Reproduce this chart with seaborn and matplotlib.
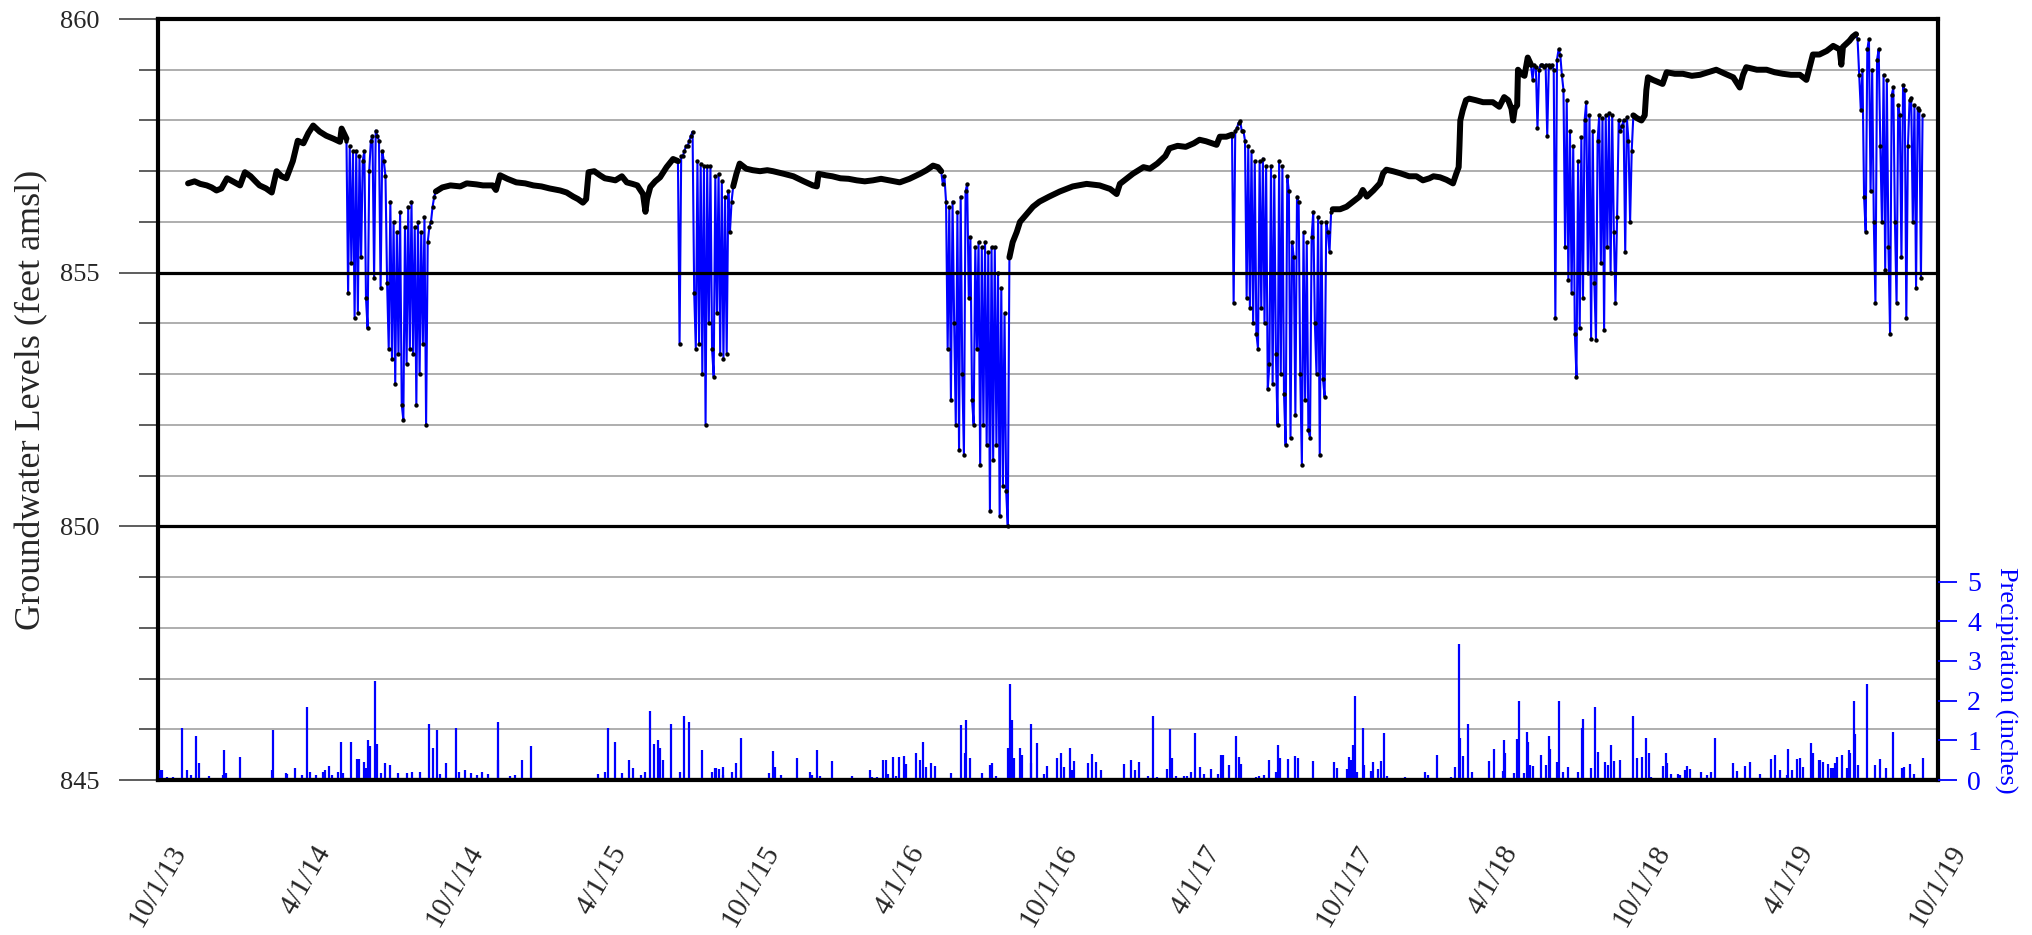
import matplotlib
import matplotlib.pyplot as plt
import matplotlib.dates as mdates
from matplotlib.ticker import FuncFormatter
import numpy as np
import pandas as pd
import seaborn as sns

matplotlib.use("Agg")

START = pd.Timestamp("2013-10-01")
BLUE = "#0000ff"

# groundwater level outside the pumping seasons (days since 10/1/13, feet amsl)
base_day = [
    37, 45, 52, 60, 66, 72, 78, 85, 92, 101, 107, 114, 120, 125, 133, 140, 146, 152, 158,
    166, 172, 179, 185, 191, 199, 207, 216, 224, 226, 232,
    342, 350, 360, 372, 380, 392, 400, 412, 416, 421, 430, 441, 452, 462, 472, 482, 495,
    503, 511, 517, 523, 527, 530, 537, 544, 550, 557, 563, 571, 577, 584, 590, 597, 600,
    602, 606, 612, 618, 626, 634, 640,
    708, 712, 716, 724, 732, 741, 750, 757, 770, 782, 795, 806, 811, 813, 822, 830, 840,
    850, 860, 870, 880, 890, 900, 913, 925, 938, 946, 954, 960, 964,
    1048, 1052, 1057, 1061, 1069, 1077, 1085, 1097, 1110, 1126, 1143, 1159, 1172, 1180,
    1184, 1192, 1200, 1213, 1221, 1230, 1240, 1245, 1255, 1265, 1275, 1282, 1290, 1303,
    1307, 1315, 1322,
    1446, 1455, 1463, 1471, 1479, 1483, 1488, 1496, 1504, 1508, 1512, 1520, 1529, 1540,
    1549, 1557, 1565, 1570, 1578, 1586, 1594, 1598, 1601, 1602, 1603, 1606, 1610, 1614,
    1622, 1631, 1643, 1651, 1657, 1662, 1666, 1668, 1670, 1673, 1674, 1678, 1682, 1686, 1690,
    1816, 1820, 1826, 1830, 1832, 1834, 1840, 1852, 1857, 1867, 1877, 1888, 1898, 1908,
    1918, 1929, 1939, 1947, 1951, 1955, 1968, 1980, 1990, 2000, 2010, 2021, 2029, 2033,
    2037, 2045, 2054, 2062, 2070, 2072, 2074, 2082, 2086, 2090,
]
base_ft = [
    856.76, 856.80, 856.75, 856.72, 856.68, 856.62, 856.66, 856.86, 856.80, 856.72, 856.98,
    856.90, 856.80, 856.72, 856.66, 856.58, 857.00, 856.90, 856.86, 857.20, 857.60, 857.55,
    857.75, 857.90, 857.78, 857.70, 857.64, 857.58, 857.84, 857.64,
    856.60, 856.68, 856.72, 856.70, 856.76, 856.74, 856.72, 856.72, 856.63, 856.92, 856.85,
    856.78, 856.76, 856.72, 856.70, 856.66, 856.62, 856.58, 856.50, 856.45, 856.38, 856.45,
    856.98, 857.00, 856.92, 856.86, 856.84, 856.82, 856.90, 856.78, 856.75, 856.72, 856.55,
    856.20, 856.45, 856.69, 856.80, 856.88, 857.08, 857.24, 857.20,
    856.70, 856.95, 857.15, 857.05, 857.02, 857.00, 857.02, 857.00, 856.95, 856.90, 856.80,
    856.72, 856.70, 856.95, 856.92, 856.90, 856.86, 856.85, 856.82, 856.80, 856.82, 856.85,
    856.82, 856.78, 856.85, 856.95, 857.02, 857.11, 857.08, 857.00,
    855.30, 855.60, 855.80, 856.00, 856.15, 856.30, 856.40, 856.50, 856.60, 856.70, 856.75,
    856.72, 856.65, 856.55, 856.75, 856.85, 856.95, 857.08, 857.05, 857.15, 857.30, 857.45,
    857.50, 857.48, 857.55, 857.62, 857.59, 857.52, 857.68, 857.68, 857.72,
    856.25, 856.25, 856.30, 856.40, 856.50, 856.63, 856.50, 856.62, 856.76, 856.96, 857.03,
    857.00, 856.96, 856.90, 856.90, 856.82, 856.86, 856.90, 856.88, 856.83, 856.76, 856.95,
    857.08, 857.50, 858.00, 858.20, 858.40, 858.43, 858.40, 858.36, 858.36, 858.27, 858.46,
    858.40, 858.23, 858.00, 858.23, 858.30, 859.00, 858.92, 858.88, 859.24, 859.10,
    858.10, 858.05, 858.00, 858.10, 858.60, 858.85, 858.80, 858.72, 858.95, 858.92, 858.92,
    858.88, 858.90, 858.95, 859.00, 858.92, 858.85, 858.65, 858.90, 859.05, 859.00, 859.00,
    858.95, 858.92, 858.90, 858.90, 858.80, 859.05, 859.30, 859.30, 859.37, 859.47, 859.40,
    859.10, 859.45, 859.57, 859.65, 859.70,
]

# pumping seasons, readings every 2 days from the first day below
season_start = [232, 640, 964, 1322, 1690, 2090]
pump_2014 = [
    857.6, 854.6, 857.5, 855.2, 857.4, 854.1, 857.4, 854.2, 857.3, 855.3,
    857.2, 857.4, 854.5, 853.9, 857.0, 857.6, 857.7, 854.9, 857.8, 857.7,
    857.6, 854.7, 857.4, 857.2, 856.9, 854.8, 853.5, 856.4, 853.3, 856.0,
    852.8, 855.8, 853.4, 856.2, 852.4, 852.1, 855.9, 853.2, 856.3, 853.5,
    856.4, 853.4, 855.9, 852.4, 856.0, 853.0, 855.8, 853.6, 856.1, 852.0,
    855.6, 855.9, 856.0, 856.3, 856.5, 856.6,
]
pump_2015 = [
    857.2, 853.6, 857.3, 857.3, 857.4, 857.5, 857.5, 857.6, 857.7, 857.78,
    854.6, 853.5, 857.2, 853.6, 857.15, 853.0, 857.1, 852.0, 857.1, 854.0,
    857.1, 853.5, 852.95, 856.9, 854.2, 856.95, 853.4, 856.8, 853.3, 856.5,
    853.4, 856.6, 855.8, 856.4, 856.7,
]
pump_2016 = [
    857.0, 856.75, 856.9, 856.4, 853.5, 856.3, 852.5, 856.4, 854.0, 852.0,
    856.2, 851.5, 856.5, 853.0, 851.4, 856.6, 856.75, 854.5, 855.7, 852.5,
    852.0, 855.5, 853.5, 855.6, 851.2, 855.5, 852.0, 855.6, 851.6, 855.4,
    850.3, 855.5, 851.3, 855.5, 851.6, 855.0, 850.2, 854.7, 850.8, 854.2,
    850.7, 850.0, 855.3,
]
pump_2017 = [
    857.7, 854.4, 857.8, 857.85, 857.95, 857.98, 857.8,
    857.8, 857.6, 854.5, 857.5, 854.3, 857.4, 854.0, 857.2, 853.8, 853.5,
    857.2, 854.3, 857.25, 854.0, 857.1, 852.7, 853.2, 857.1, 852.8, 856.9,
    853.4, 852.0, 857.2, 853.0, 857.1, 852.6, 851.6, 856.9, 856.6, 851.75,
    855.6, 855.3, 852.2, 856.5, 856.4, 853.0, 851.2, 855.8, 852.5, 855.6,
    851.9, 851.75, 855.7, 856.2, 854.0, 853.0, 856.1, 851.4, 856.0, 852.9,
    852.55, 856.0, 855.8, 855.4, 856.2, 856.25,
]
pump_2018 = [
    859.1, 858.8, 859.1, 859.05, 857.85, 859.0, 859.1, 859.1, 859.05, 859.1,
    857.7, 859.1, 859.05, 859.1, 859.0, 854.1, 859.2, 859.4, 859.3, 858.9,
    858.6, 855.5, 858.4, 854.85, 857.8, 854.6, 857.5, 853.8, 852.95, 857.2,
    853.9, 857.67, 854.5, 858.0, 858.36, 855.0, 858.1, 853.7, 857.8, 854.8,
    853.67, 857.6, 858.1, 855.2, 858.05, 853.87, 858.1, 855.5, 858.15, 855.0,
    858.1, 855.8, 854.4, 856.1, 858.0, 857.8, 857.9, 858.0, 855.4, 858.06,
    857.6, 856.0, 857.4, 858.1,
]
pump_2019 = [
    859.7, 859.6, 858.9, 858.2, 859.0, 856.5, 855.8, 859.4, 859.6, 856.6,
    859.0, 856.0, 854.4, 859.2, 859.4, 857.5, 856.0, 858.9, 855.05, 858.8,
    855.5, 853.8, 858.5, 858.65, 856.0, 854.4, 858.3, 858.1, 855.3, 858.7,
    858.6, 854.1, 857.5, 858.4, 858.45, 856.0, 858.3, 854.7, 858.25, 858.2,
    854.9, 858.1,
]

# daily precipitation (days since 10/1/13, inches)
rain_day = [
    3, 5, 11, 18, 22, 29, 36, 41, 47, 51, 63, 71, 80, 81, 84, 101, 104, 121, 140, 142,
    157, 159, 169, 177, 183, 187, 195, 203, 206, 210, 214, 221, 225, 228, 237, 245, 247,
    253, 256, 258, 261, 267, 270, 274, 279, 286, 296, 307, 313, 323, 333, 338, 344, 347,
    355, 367, 371, 378, 385, 393, 399, 406, 418, 419, 433, 440, 448, 459, 495, 517, 541,
    550, 554, 563, 571, 580, 585, 594, 599, 606, 610, 616, 618, 622, 632, 643, 648, 654,
    670, 682, 685, 687, 691, 695, 696,
    707, 711, 717, 718, 752, 757, 760, 767, 772, 787, 792, 802, 805, 811, 815, 830, 836,
    854, 876, 879, 885, 893, 896, 898, 905, 909, 912, 918, 921, 933, 938, 942, 945, 952,
    956, 976, 988, 993, 995, 1000, 1014, 1024, 1027, 1031, 1046, 1048, 1049, 1051, 1054,
    1061, 1064, 1074, 1075, 1082, 1091, 1094, 1107, 1111, 1115, 1122, 1125, 1128, 1145,
    1150, 1155, 1161, 1180, 1189, 1198, 1203, 1207, 1219, 1225, 1230, 1242, 1246, 1248,
    1253, 1263, 1267, 1272, 1276, 1282, 1287, 1296, 1305, 1308, 1311, 1318, 1327, 1331,
    1333, 1351, 1355, 1361, 1368, 1376, 1379, 1381, 1391, 1400, 1403, 1422, 1438, 1448,
    1451, 1464, 1466,
    1468, 1471, 1474, 1476, 1483, 1485, 1493, 1495, 1502, 1506, 1509, 1513, 1535, 1560,
    1563, 1574, 1591, 1597, 1602, 1603, 1606, 1612, 1617, 1638, 1645, 1655, 1657, 1658,
    1669, 1673, 1675, 1681, 1685, 1686, 1689, 1692, 1702, 1708, 1712, 1713, 1722, 1725,
    1730, 1735, 1748, 1753, 1754, 1764, 1769, 1773, 1781, 1785, 1789, 1792, 1800, 1815,
    1820, 1827, 1831, 1835, 1838, 1853, 1856, 1857, 1862, 1871, 1873, 1880, 1882, 1886,
    1899, 1907, 1912, 1917, 1923, 1939, 1944, 1954, 1959, 1972, 1985, 1990, 1996, 2005,
    2006, 2011, 2018, 2021, 2025, 2035, 2037, 2045, 2046, 2049, 2055, 2059, 2062, 2064,
    2067, 2073, 2079, 2082, 2083, 2087, 2089, 2093, 2103, 2114, 2119, 2127, 2135, 2147,
    2149, 2156, 2161, 2172,
]
rain_in = [
    0.24, 0.24, 0.08, 0.08, 0.04, 1.30, 0.25, 0.13, 1.10, 0.42, 0.10, 0.04, 0.13, 0.75,
    0.17, 0.57, 0.04, 0.04, 0.25, 1.25, 0.17, 0.15, 0.29, 0.13, 1.85, 0.21, 0.13, 0.21,
    0.24, 0.35, 0.13, 0.21, 0.95, 0.17, 0.95, 0.52, 0.52, 0.46, 0.29, 1.00, 0.85, 2.50,
    0.90, 0.17, 0.42, 0.38, 0.17, 0.17, 0.21, 0.21, 1.40, 0.80, 1.25, 0.15, 0.42, 1.30,
    0.21, 0.25, 0.17, 0.13, 0.21, 0.15, 1.45, 0.50, 0.10, 0.13, 0.50, 0.85, 0.04, 0.02,
    0.15, 0.21, 1.30, 0.95, 0.17, 0.50, 0.29, 0.13, 0.21, 1.75, 0.90, 1.00, 0.80, 0.50,
    1.40, 0.21, 1.60, 1.45, 0.75, 0.21, 0.29, 0.29, 0.27, 0.34, 0.13,
    0.21, 0.42, 1.07, 0.25, 0.17, 0.73, 0.34, 0.13, 0.04, 0.55, 0.04, 0.19, 0.13, 0.76,
    0.10, 0.48, 0.04, 0.10, 0.25, 0.08, 0.08, 0.50, 0.50, 0.15, 0.57, 0.10, 0.57, 0.60,
    0.40, 0.69, 0.50, 0.95, 0.34, 0.44, 0.36, 0.18, 1.39, 0.67, 1.50, 0.56, 0.18, 0.39,
    0.42, 0.10, 0.81, 0.67, 2.42, 1.50, 0.56, 0.80, 0.62, 1.42, 0.42, 0.94, 0.15, 0.35,
    0.56, 0.67, 0.34, 0.80, 0.24, 0.48, 0.42, 0.66, 0.46, 0.25, 0.06, 0.40, 0.50, 0.25,
    0.45, 0.10, 1.60, 0.08, 0.28, 1.29, 0.55, 0.10, 0.10, 0.10, 0.20, 1.18, 0.33, 0.15,
    0.27, 0.14, 0.62, 0.63, 0.39, 1.12, 0.59, 0.40, 0.08, 0.10, 0.13, 0.50, 0.21, 0.87,
    0.55, 0.52, 0.61, 0.56, 0.47, 0.04, 0.45, 0.29, 0.27, 0.59,
    0.50, 0.88, 2.12, 0.19, 1.30, 0.39, 0.23, 0.46, 0.28, 0.48, 1.18, 0.11, 0.08, 0.21,
    0.13, 0.63, 0.08, 0.33, 3.43, 1.05, 0.60, 1.42, 0.19, 0.48, 0.77, 0.23, 1.01, 0.67,
    0.18, 1.03, 1.98, 0.18, 1.21, 0.95, 0.38, 0.36, 0.64, 0.38, 1.10, 0.78, 0.46, 1.98,
    0.19, 0.34, 0.21, 1.30, 1.53, 0.29, 1.84, 0.71, 0.46, 0.38, 0.88, 0.48, 0.51, 1.62,
    0.56, 0.58, 1.05, 0.69, 0.08, 0.36, 0.69, 0.42, 0.14, 0.14, 0.13, 0.25, 0.35, 0.27,
    0.21, 0.13, 0.21, 1.05, 0.06, 0.44, 0.23, 0.36, 0.46, 0.14, 0.53, 0.63, 0.25, 0.13,
    0.79, 0.25, 0.54, 0.56, 0.33, 0.94, 0.67, 0.51, 0.50, 0.46, 0.41, 0.31, 0.31, 0.42,
    0.59, 0.63, 0.29, 0.75, 0.67, 1.98, 1.15, 0.39, 2.43, 0.37, 0.52, 0.31, 1.20, 0.29,
    0.33, 0.41, 0.16, 0.56,
]


def to_frame(days, values, gap):
    df = pd.DataFrame({"day": days, "value": values})
    df["date"] = START + pd.to_timedelta(df["day"], unit="D")
    df["seg"] = (df["day"].diff() > gap).cumsum()
    return df


base_df = to_frame(base_day, base_ft, 40)

seasons = [pump_2014, pump_2015, pump_2016, pump_2017, pump_2018, pump_2019]
pump_frames = []
for i, (first, vals) in enumerate(zip(season_start, seasons)):
    frame = to_frame(first + 2 * np.arange(len(vals)), vals, 1000)
    frame["seg"] = i
    pump_frames.append(frame)
pump_df = pd.concat(pump_frames, ignore_index=True)

rain_df = pd.DataFrame({"day": rain_day, "inches": rain_in})
rain_df["date"] = START + pd.to_timedelta(rain_df["day"], unit="D")

sns.set_theme(style="white")
plt.rcParams["font.family"] = ["Liberation Serif", "DejaVu Serif"]

fig = plt.figure(figsize=(20.32, 9.35), dpi=100)
ax = fig.add_axes([158 / 2032, 155 / 935, 1780 / 2032, 761 / 935])

# grid: thin gray every foot, heavy black every 5 feet
ax.set_ylim(845, 860)
ax.set_yticks([845, 850, 855, 860])
ax.set_yticks(range(845, 861), minor=True)
ax.grid(which="minor", axis="y", color="#a8a8a8", lw=1.3)
ax.grid(which="major", axis="y", visible=False)
ax.set_axisbelow(True)
for lvl in [850, 855]:
    ax.axhline(lvl, color="black", lw=2.3, zorder=2.5)

sns.lineplot(data=pump_df, x="date", y="value", units="seg", estimator=None,
             color=BLUE, lw=1.5, ax=ax, zorder=2)
sns.lineplot(data=base_df, x="date", y="value", units="seg", estimator=None,
             color="black", lw=4.3, ax=ax, zorder=3)
sns.scatterplot(data=pump_df, x="date", y="value", color="black", s=10,
                linewidth=0, ax=ax, zorder=4)

ax.set_xlim(pd.Timestamp("2013-10-01"), pd.Timestamp("2019-10-01"))
ax.xaxis.set_major_locator(mdates.MonthLocator(bymonth=[4, 10]))
ax.xaxis.set_minor_locator(mdates.MonthLocator(bymonth=[1, 7]))


def date_label(x, pos):
    d = mdates.num2date(x)
    return f"{d.month}/{d.day}/{d.year % 100:02d}"


ax.xaxis.set_major_formatter(FuncFormatter(date_label))
ax.tick_params(axis="x", which="major", length=27, width=1.3, color="#505050",
               labelsize=21, pad=17, labelrotation=60)
ax.tick_params(axis="x", which="minor", length=13, width=1.3, color="#808080")
ax.tick_params(axis="y", which="major", length=28, width=1.3, color="#505050",
               labelsize=19, pad=14, left=True)
ax.tick_params(axis="y", which="minor", length=14, width=1.3, color="#505050", left=True)
for lab in ax.get_xticklabels():
    lab.set_ha("center")

ax.set_xlabel("")
ax.set_ylabel("Groundwater Levels (feet amsl)", fontsize=26)
ax.yaxis.set_label_coords(-0.0615, 0.5)
for side in ["top", "bottom", "left", "right"]:
    ax.spines[side].set_visible(True)
    ax.spines[side].set_color("black")
    ax.spines[side].set_linewidth(3)

# precipitation on a secondary axis squeezed into the bottom
ax2 = ax.twinx()
ax2.vlines(rain_df["date"], 0, rain_df["inches"], color=BLUE, lw=1.6)
ax2.axhline(0, color="black", lw=3, zorder=5)
ax2.set_ylim(0, 19.17)
ax2.set_yticks(range(6))
ax2.tick_params(axis="y", colors=BLUE, length=14, width=1.3, labelsize=20, pad=7, right=True)
ax2.grid(False)
for side in ax2.spines.values():
    side.set_visible(False)
ax2.set_ylabel("Precipitation (inches)", color=BLUE, fontsize=19, rotation=270,
               va="center", ha="center")
ax2.yaxis.set_label_coords(1.038, 0.131)
ax2.set_xlim(ax.get_xlim())

fig.savefig("out.png", dpi=100, facecolor="white")
